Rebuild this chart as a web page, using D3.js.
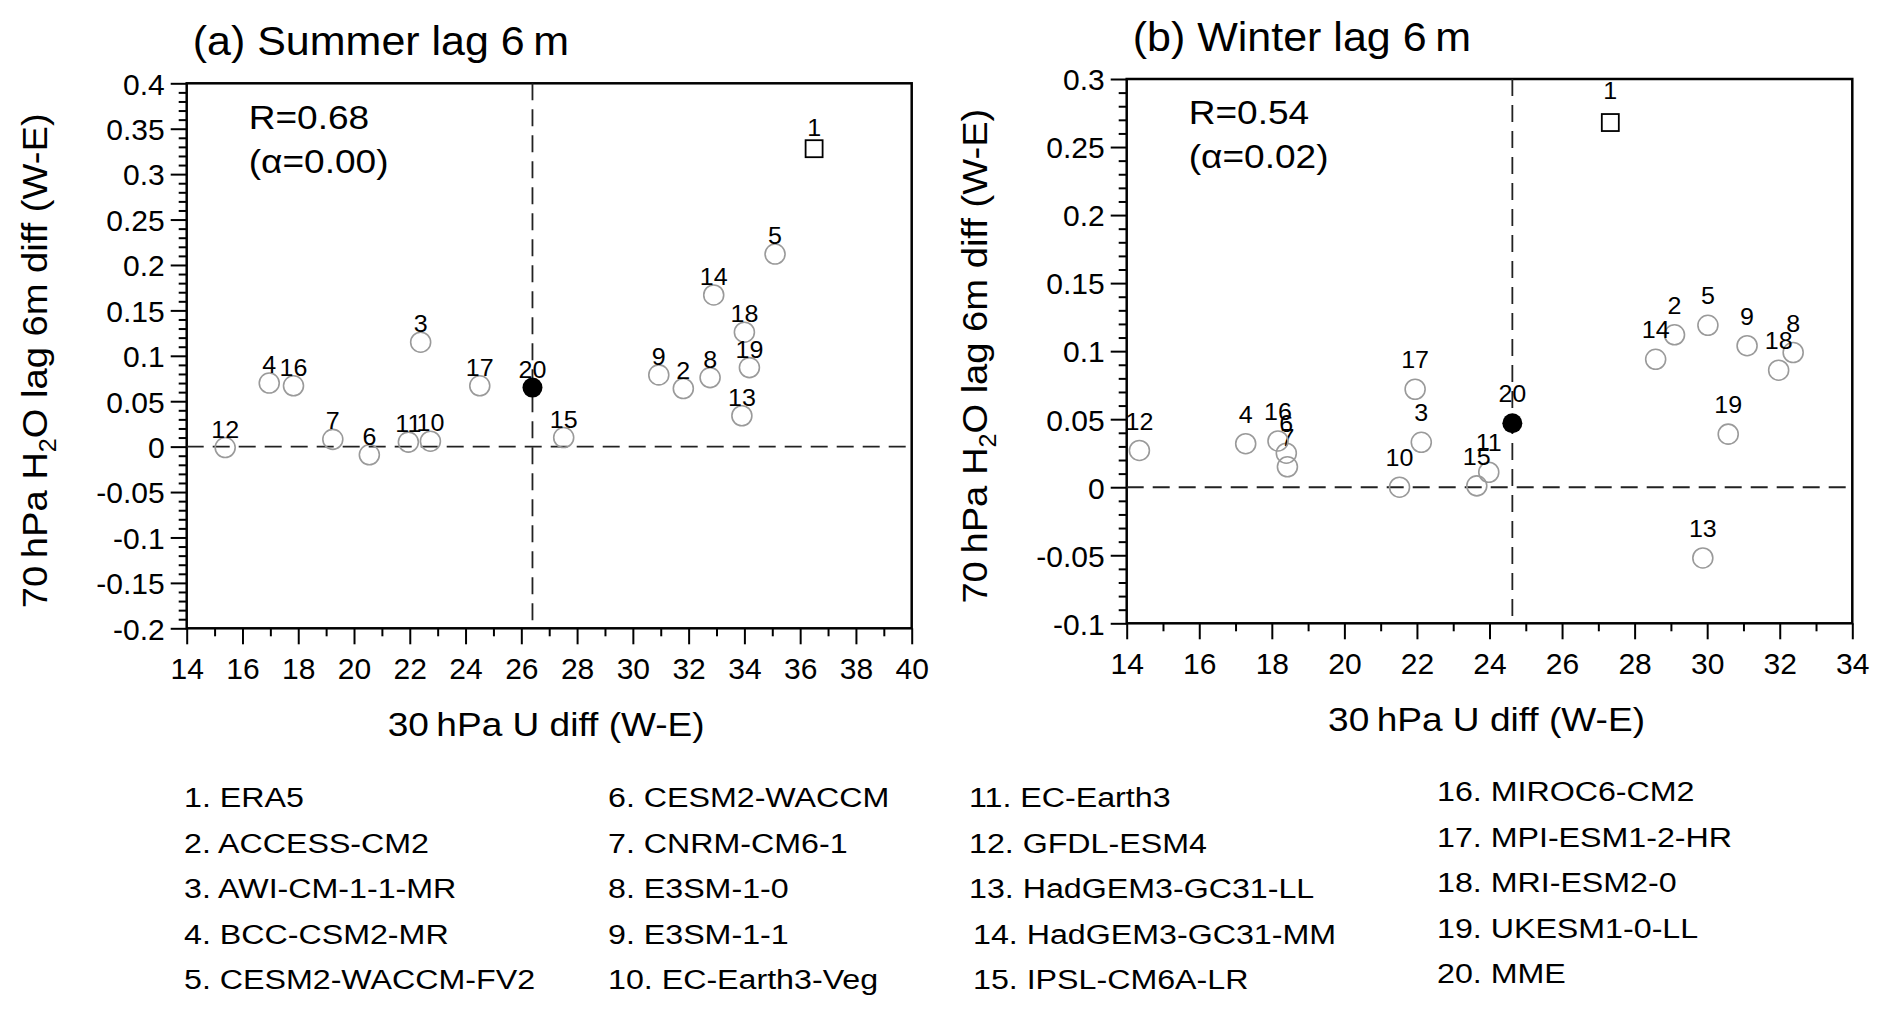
<!DOCTYPE html>
<html><head><meta charset="utf-8">
<script src="https://cdn.jsdelivr.net/npm/d3@7"></script>
<style>
body{margin:0;background:#fff}
text{font-family:"Liberation Sans",Arial,Helvetica,sans-serif;fill:#000}
</style>
</head><body>
<svg id="c" width="1892" height="1019"></svg>
<script>
// ---- data ----
const models = ["ERA5","ACCESS-CM2","AWI-CM-1-1-MR","BCC-CSM2-MR","CESM2-WACCM-FV2",
  "CESM2-WACCM","CNRM-CM6-1","E3SM-1-0","E3SM-1-1","EC-Earth3-Veg",
  "EC-Earth3","GFDL-ESM4","HadGEM3-GC31-LL","HadGEM3-GC31-MM","IPSL-CM6A-LR",
  "MIROC6-CM2","MPI-ESM1-2-HR","MRI-ESM2-0","UKESM1-0-LL","MME"];
const summerU   = [36.50,31.81,22.39,16.96,35.10,20.55,19.24,32.77,30.93,22.74,21.95,15.38,33.91,32.90,27.52,17.83,24.51,34.00,34.18,26.40];
const summerH2O = [0.328,0.064,0.115,0.070,0.212,-0.009,0.008,0.076,0.079,0.006,0.005,-0.001,0.034,0.167,0.010,0.067,0.067,0.126,0.087,0.065];
const winterU   = [27.33,29.10,22.12,17.28,30.02,18.40,18.43,32.37,31.10,21.52,23.98,14.35,29.88,28.58,23.65,18.17,21.95,31.97,30.58,24.63];
const winterH2O = [0.268,0.112,0.033,0.032,0.119,0.025,0.015,0.099,0.104,0.000,0.011,0.027,-0.052,0.094,0.001,0.034,0.072,0.086,0.039,0.047];
const summerXTicks = [14,16,18,20,22,24,26,28,30,32,34,36,38,40];
const summerYTicks = [-0.2,-0.15,-0.1,-0.05,0,0.05,0.1,0.15,0.2,0.25,0.3,0.35,0.4];
const winterXTicks = [14,16,18,20,22,24,26,28,30,32,34];
const winterYTicks = [-0.1,-0.05,0,0.05,0.1,0.15,0.2,0.25,0.3];
const panelTitles = ["(a) Summer lag 6\u2009m","(b) Winter lag 6\u2009m"];
const corrR = ["R=0.68","R=0.54"];
const corrAlpha = ["(\u03b1=0.00)","(\u03b1=0.02)"];

// ---- drawing ----
const svg = d3.select("#c");
function txt(g, x, y, s, size, anchor, sx){
  return g.append("text").attr("transform",`translate(${x},${y}) scale(${sx||1},1)`)
    .attr("font-size",size).attr("text-anchor",anchor||"start").text(s);
}
const fmt = v => String(+v.toFixed(2));

function panel(cfg){
  const {L,R,T,B,xDom,yDom,xTicks,yTicks,yMinor,u,h,title,r,alpha,titleY,rY,labOff} = cfg;
  const g = svg.append("g");
  const x = d3.scaleLinear().domain(xDom).range([L,R]);
  const y = d3.scaleLinear().domain(yDom).range([B,T]);
  // axes (outward ticks left & bottom)
  const gx = g.append("g").attr("transform",`translate(0,${B})`)
    .call(d3.axisBottom(x).tickValues(xTicks).tickSize(16).tickFormat(d3.format("d")).tickPadding(8));
  const xMinor = d3.range(xDom[0]+1, xDom[1], 2);
  g.append("g").attr("transform",`translate(0,${B})`)
    .call(d3.axisBottom(x).tickValues(xMinor).tickSize(8).tickFormat(""));
  const gy = g.append("g").attr("transform",`translate(${L},0)`)
    .call(d3.axisLeft(y).tickValues(yTicks).tickSize(16).tickFormat(fmt).tickPadding(6));
  const yMin = d3.range(Math.round(yDom[0]*100), Math.round(yDom[1]*100)+1, Math.round(yMinor*100))
      .filter(v=>Math.abs(v%5)!==0).map(v=>v/100);
  g.append("g").attr("transform",`translate(${L},0)`)
    .call(d3.axisLeft(y).tickValues(yMin).tickSize(8).tickFormat(""));
  g.selectAll(".domain").remove();
  g.selectAll(".tick line").attr("stroke","#000").attr("stroke-width",2);
  gx.selectAll(".tick text").attr("font-size",30).attr("font-family",null).attr("dy","0.9em");
  gy.selectAll(".tick text").attr("font-size",30).attr("font-family",null).attr("dy","0.36em");
  // frame
  g.append("rect").attr("x",L).attr("y",T).attr("width",R-L).attr("height",B-T)
    .attr("fill","none").attr("stroke","#000").attr("stroke-width",2.5);
  // dashed reference lines (zero line and MME wind)
  const mmeI = u.length-1;
  g.append("line").attr("x1",L).attr("x2",R).attr("y1",y(0)).attr("y2",y(0))
    .attr("stroke","#222").attr("stroke-width",1.8).attr("stroke-dasharray","17,9");
  g.append("line").attr("x1",x(u[mmeI])).attr("x2",x(u[mmeI])).attr("y1",T).attr("y2",B)
    .attr("stroke","#222").attr("stroke-width",1.8).attr("stroke-dasharray","17,9");
  // points
  d3.range(u.length).forEach(i=>{
    const px = x(u[i]), py = y(h[i]);
    if(i===0){
      g.append("rect").attr("x",px-8.5).attr("y",py-8.5).attr("width",17).attr("height",17)
        .attr("fill","none").attr("stroke","#000").attr("stroke-width",1.8);
    } else if(i===mmeI){
      g.append("circle").attr("cx",px).attr("cy",py).attr("r",10).attr("fill","#000");
    } else {
      g.append("circle").attr("cx",px).attr("cy",py).attr("r",10)
        .attr("fill","none").attr("stroke","#9a9a9a").attr("stroke-width",1.6);
    }
    const off = labOff + (i===0 ? 3 : 0);
    txt(g, px, py - off, String(i+1), 23, "middle", 1.09).attr("dy","0.35em");
  });
  // titles
  txt(svg, L+6, titleY, title, 40, "start", 1.075);
  txt(svg, L+62, rY, r, 34, "start", 1.09);
  txt(svg, L+62, rY+44, alpha, 34, "start", 1.09);
  txt(svg, (L+R)/2-3, B+108, "30\u2009hPa U diff (W-E)", 34, "middle", 1.09);
  const yt = svg.append("text").attr("font-size",35).attr("text-anchor","middle")
    .attr("transform",`translate(${L-140},${(T+B)/2+5}) rotate(-90) scale(1.09,1)`);
  yt.append("tspan").text("70\u2009hPa H");
  yt.append("tspan").attr("font-size",23).attr("dy",9).text("2");
  yt.append("tspan").attr("dy",-9).text("O lag 6m diff (W-E)");
}

panel({L:186.7,R:911.7,T:83.3,B:628.3,xDom:[14,40],yDom:[-0.2,0.4],xTicks:summerXTicks,yTicks:summerYTicks,
  yMinor:0.01,u:summerU,h:summerH2O,title:panelTitles[0],r:corrR[0],alpha:corrAlpha[0],titleY:55,rY:129,labOff:18});
panel({L:1126.7,R:1852.3,T:79,B:623.3,xDom:[14,34],yDom:[-0.1,0.3],xTicks:winterXTicks,yTicks:winterYTicks,
  yMinor:0.01,u:winterU,h:winterH2O,title:panelTitles[1],r:corrR[1],alpha:corrAlpha[1],titleY:51,rY:124,labOff:29});

// legend
const legCols = [184, 608, 969, 1437];
const legRow0 = [807, 807, 807, 801];
const legDy = 45.6;
models.forEach((m,i)=>{
  const c = Math.floor(i/5), r = i%5;
  let x0 = legCols[c];
  if(i===13||i===14) x0 += 4;
  txt(svg, x0, legRow0[c]+r*legDy, `${i+1}. ${m}`, 28, "start", 1.15);
});
</script>
</body></html>
